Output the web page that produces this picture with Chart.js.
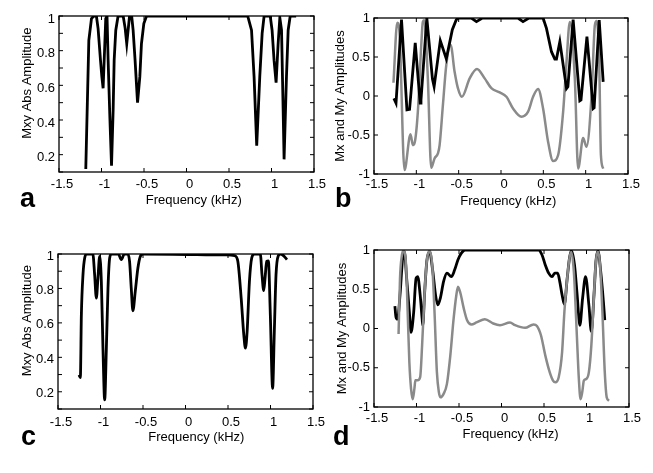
<!DOCTYPE html>
<html>
<head>
<meta charset="utf-8">
<script src="https://cdn.jsdelivr.net/npm/chart.js@4/dist/chart.umd.min.js"></script>
<style>
  body { margin: 0; background: #fff; }
  #wrap { position: relative; width: 653px; height: 473px; overflow: hidden; }
  #wrap canvas { position: absolute; display: block; }
</style>
</head>
<body>
<div id="wrap">
  <canvas id="pa" width="326" height="236" style="left:0;top:0"></canvas>
  <canvas id="pb" width="327" height="236" style="left:326px;top:0"></canvas>
  <canvas id="pc" width="326" height="237" style="left:0;top:236px"></canvas>
  <canvas id="pd" width="327" height="237" style="left:326px;top:236px"></canvas>
</div>
<script>
// tick labels
var freqTicks = [-1.5, -1, -0.5, 0, 0.5, 1, 1.5];
var ampLabels = [0.2, 0.4, 0.6, 0.8, 1];
var mxLabels = [-1, -0.5, 0, 0.5, 1];

// panel a : |Mxy|
var aFreq = [-1.185, -1.149, -1.118, -1.09, -1.06, -1.04, -1.012, -0.996, -0.981, -0.961, -0.95, -0.935,
  -0.922, -0.902, -0.882, -0.863, -0.851, -0.832, -0.805, -0.745, -0.722, -0.703, -0.67, -0.645, -0.628,
  -0.605, -0.576, -0.549, -0.53, -0.502, -0.47, 0.72, 0.765, 0.795, 0.826, 0.862, 0.89, 0.913, 0.985,
  1.007, 1.03, 1.054, 1.078, 1.098, 1.118, 1.137, 1.148, 1.176, 1.196, 1.22, 1.29];
var aAmp = [0.117, 0.86, 0.985, 1, 1, 0.927, 0.745, 0.65, 0.583, 0.84, 0.985, 1,
  0.745, 0.42, 0.136, 0.458, 0.745, 0.918, 1, 1, 0.93, 0.84, 1, 1, 0.918,
  0.745, 0.5, 0.65, 0.84, 0.956, 1, 1, 0.918, 0.65, 0.252, 0.65, 0.9, 1, 1,
  0.918, 0.745, 0.615, 0.84, 0.99, 0.918, 0.458, 0.173, 0.65, 0.918, 1, 1];

// panel b : Mx (black) and My (gray)
var bxFreq = [-1.265, -1.24, -1.175, -1.111, -1.08, -1.013, -0.955, -0.945, -0.876, -0.81, -0.79, -0.717,
  -0.646, -0.575, -0.528, -0.5, -0.35, -0.29, -0.22, 0.2, 0.26, 0.33, 0.497, 0.537, 0.596, 0.636, 0.655,
  0.695, 0.774, 0.79, 0.852, 0.931, 0.945, 1.015, 1.089, 1.1, 1.16, 1.207];
var bMx = [-0.03, -0.09, 0.98, -0.176, -0.17, 0.68, -0.09, -0.05, 1, 0.22, 0.12, 0.71,
  0.477, 0.85, 0.978, 1, 1, 0.953, 1, 1, 0.953, 1, 1, 0.867, 0.568, 0.474, 0.474,
  0.696, 0.097, 0.12, 0.98, -0.06, -0.05, 0.76, -0.16, -0.15, 0.974, 0.18];
var byFreq = [-1.27, -1.225, -1.199, -1.14, -1.069, -1.041, -1.02, -0.982, -0.942, -0.923, -0.905, -0.864,
  -0.824, -0.785, -0.745, -0.725, -0.686, -0.646, -0.595, -0.548, -0.509, -0.462, -0.37, -0.284, -0.193,
  -0.114, -0.015, 0.064, 0.142, 0.241, 0.32, 0.379, 0.438, 0.497, 0.556, 0.615, 0.675, 0.734, 0.774,
  0.813, 0.872, 0.911, 0.97, 1.01, 1.07, 1.109, 1.13, 1.16, 1.18, 1.207];
var bMy = [0.17, 0.94, 0.82, -0.95, -0.49, -0.63, -0.6, -0.2, 0.65, 0.95, 0.97, 0.226,
  -0.92, -0.8, -0.735, -0.63, -0.115, 0.4, 0.654, 0.31, 0.1, -0.01, 0.226, 0.346, 0.226,
  0.1, 0.046, -0.01, -0.16, -0.265, -0.2, -0.01, 0.09, -0.16, -0.586, -0.833, -0.756, -0.2, 0.44,
  0.95, 0.226, -0.93, -0.54, -0.65, 0.01, 0.91, 0.96, 0.44, -0.756, -0.93];

// panel c : |Mxy|
var cFreq = [-1.253, -1.237, -1.225, -1.206, -1.186, -1.16, -1.09, -1.069, -1.049, -1.03, -1.01, -0.99,
  -0.971, -0.951, -0.931, -0.912, -0.892, -0.87, -0.79, -0.755, -0.72, -0.68, -0.658, -0.638, -0.619,
  -0.591, -0.56, -0.532, -0.5, 0.48, 0.58, 0.616, 0.655, 0.686, 0.705, 0.725, 0.752, 0.779, 0.81, 0.88,
  0.9, 0.92, 0.936, 0.955, 0.975, 0.998, 1.025, 1.045, 1.065, 1.092, 1.12, 1.163, 1.194];
var cAmp = [0.298, 0.283, 0.647, 0.88, 0.977, 1, 1, 0.88, 0.744, 0.86, 0.986, 0.84,
  0.453, 0.153, 0.453, 0.8, 0.977, 1, 1, 0.967, 1, 1, 0.957, 0.8, 0.67,
  0.783, 0.919, 0.986, 1, 0.995, 0.99, 0.957, 0.744, 0.53, 0.453, 0.55, 0.84, 0.977, 1, 1,
  0.88, 0.787, 0.86, 0.957, 0.96, 0.647, 0.22, 0.55, 0.88, 0.99, 1, 0.986, 0.967];

// panel d : Mx (black) and My (gray)
var dxFreq = [-1.254, -1.242, -1.223, -1.194, -1.163, -1.143, -1.116, -1.084, -1.064, -1.033, -1.005, -0.986,
  -0.957, -0.934, -0.926, -0.906, -0.879, -0.847, -0.808, -0.776, -0.749, -0.72, -0.681, -0.642, -0.59,
  -0.551, -0.512, -0.472, -0.43, 0.436, 0.476, 0.515, 0.555, 0.595, 0.626, 0.661, 0.685, 0.713, 0.74,
  0.773, 0.8, 0.823, 0.859, 0.89, 0.922, 0.954, 0.989, 1.028, 1.057, 1.088, 1.111, 1.135, 1.167, 1.199, 1.215];
var dMx = [0.286, 0.149, 0.12, 0.427, 0.897, 0.98, 0.64, 0.21, -0.05, 0.21, 0.64, 0.66,
  0.427, 0.128, 0.04, 0.427, 0.854, 0.98, 0.726, 0.427, 0.3, 0.385, 0.6, 0.705, 0.66,
  0.747, 0.876, 0.96, 1, 1, 0.94, 0.81, 0.705, 0.66, 0.705, 0.705, 0.6, 0.427, 0.308,
  0.64, 0.897, 0.99, 0.81, 0.427, 0.04, 0.385, 0.66, 0.3, -0.04, 0.427, 0.854, 0.99, 0.726, 0.34, 0.106];
var dyFreq = [-1.211, -1.194, -1.171, -1.155, -1.123, -1.104, -1.084, -1.064, -1.045, -1.025, -1.013, -0.986,
  -0.957, -0.934, -0.906, -0.879, -0.847, -0.815, -0.788, -0.76, -0.737, -0.717, -0.681, -0.642, -0.602,
  -0.563, -0.531, -0.512, -0.483, -0.444, -0.405, -0.353, -0.294, -0.195, -0.097, -0.018, 0.1, 0.16,
  0.278, 0.377, 0.417, 0.464, 0.515, 0.567, 0.606, 0.634, 0.673, 0.713, 0.74, 0.773, 0.8, 0.82, 0.851,
  0.883, 0.91, 0.93, 0.95, 0.969, 1.001, 1.028, 1.057, 1.088, 1.111, 1.135, 1.159, 1.187, 1.215, 1.238, 1.265];
var dMy = [-0.07, 0.64, 0.94, 0.99, 0.81, 0.21, -0.43, -0.77, -0.9, -0.77, -0.66, -0.66,
  -0.62, -0.214, 0.427, 0.854, 0.99, 0.81, 0.21, -0.556, -0.81, -0.877, -0.833, -0.705, -0.342,
  0.128, 0.427, 0.533, 0.449, 0.256, 0.106, 0.051, 0.077, 0.119, 0.064, 0.042, 0.077, 0.042,
  0.008, 0.051, 0.033, -0.086, -0.342, -0.556, -0.663, -0.684, -0.62, -0.3, 0.213, 0.64, 0.897, 0.974, 0.726,
  0, -0.64, -0.9, -0.81, -0.663, -0.64, -0.556, -0.214, 0.427, 0.854, 0.98, 0.81, 0.213, -0.556, -0.877, -0.92];

var FONT = "'Liberation Sans', Arial, sans-serif";
Chart.defaults.font.family = FONT;
Chart.defaults.font.size = 13;
Chart.defaults.color = '#000';

function pts(xs, ys) {
  return xs.map(function(x, i) { return { x: x, y: ys[i] }; });
}

function num(v) {
  return String(+Number(v).toFixed(2));
}

// MATLAB style box with inward ticks plus the panel letter
function boxPlugin(letter, lx, ly) {
  return {
    id: 'boxTicks',
    afterDatasetsDraw: function(chart) {
      var ctx = chart.ctx, a = chart.chartArea;
      var x = chart.scales.x, y = chart.scales.y;
      ctx.save();
      ctx.strokeStyle = '#000';
      ctx.lineWidth = 1.3;
      ctx.strokeRect(a.left, a.top, a.right - a.left, a.bottom - a.top);
      ctx.lineWidth = 1;
      ctx.beginPath();
      x.ticks.forEach(function(t) {
        var px = x.getPixelForValue(t.value);
        ctx.moveTo(px, a.bottom); ctx.lineTo(px, a.bottom - 4);
        ctx.moveTo(px, a.top); ctx.lineTo(px, a.top + 4);
      });
      y.ticks.forEach(function(t) {
        var py = y.getPixelForValue(t.value);
        ctx.moveTo(a.left, py); ctx.lineTo(a.left + 4, py);
        ctx.moveTo(a.right, py); ctx.lineTo(a.right - 4, py);
      });
      ctx.stroke();
      ctx.fillStyle = '#000';
      ctx.font = 'bold 27px ' + FONT;
      ctx.textBaseline = 'alphabetic';
      ctx.textAlign = 'left';
      ctx.fillText(letter, lx, ly);
      ctx.restore();
    }
  };
}

function makePanel(id, p) {
  var yTicks = p.amp
    ? { min: 0.1, max: 1, stepSize: 0.1, labels: ampLabels }
    : { min: -1, max: 1, stepSize: 0.5, labels: mxLabels };

  new Chart(document.getElementById(id), {
    type: 'line',
    data: { datasets: p.datasets },
    options: {
      responsive: false,
      animation: false,
      devicePixelRatio: 1,
      layout: { padding: { left: 0, top: p.top, right: p.right, bottom: 0 } },
      plugins: { legend: { display: false }, tooltip: { enabled: false } },
      elements: { point: { radius: 0 } },
      scales: {
        x: {
          type: 'linear', min: -1.5, max: 1.5,
          grid: { display: false, drawTicks: false },
          border: { display: false },
          ticks: {
            stepSize: 0.5, padding: p.xPad, labelOffset: 3, maxRotation: 0, autoSkip: false,
            callback: function(v) { return freqTicks.indexOf(+v.toFixed(2)) >= 0 ? num(v) : ''; }
          },
          title: { display: true, text: p.xTitle, padding: { top: 0, bottom: p.xTitlePad } },
          afterFit: function(s) { s.height = p.xH; s.paddingLeft = 0; s.paddingRight = 0; }
        },
        y: {
          type: 'linear', min: yTicks.min, max: yTicks.max,
          grid: { display: false, drawTicks: false },
          border: { display: false },
          ticks: {
            stepSize: yTicks.stepSize, padding: 4, labelOffset: p.yOff, autoSkip: false,
            callback: function(v) { return yTicks.labels.indexOf(+v.toFixed(2)) >= 0 ? num(v) : ''; }
          },
          title: { display: true, text: p.yTitle, padding: { top: p.yTitlePad, bottom: 0 } },
          afterFit: function(s) { s.width = p.yW; s.paddingTop = 0; s.paddingBottom = 0; }
        }
      }
    },
    plugins: [boxPlugin(p.letter, p.lx, p.ly)]
  });
}

function blackLine(data, smooth) {
  return { data: data, borderColor: '#000', borderWidth: 2.8, tension: 0,
    cubicInterpolationMode: smooth ? 'monotone' : 'default' };
}
function grayLine(data, smooth) {
  return { data: data, borderColor: '#8a8a8a', borderWidth: 2.5, tension: 0,
    cubicInterpolationMode: smooth ? 'monotone' : 'default' };
}

makePanel('pa', {
  amp: true, top: 16, right: 12, yW: 59, xH: 64, xPad: 5, xTitlePad: 28, yTitlePad: 20, yOff: 3,
  xTitle: '    Frequency (kHz)', yTitle: '      Mxy Abs Amplitude',
  letter: 'a', lx: 20, ly: 207,
  datasets: [blackLine(pts(aFreq, aAmp), false)]
});

// black drawn over gray here (first dataset is drawn last)
makePanel('pb', {
  amp: false, top: 18, right: 25, yW: 48, xH: 62, xPad: 3, xTitlePad: 27, yTitlePad: 7, yOff: 0,
  xTitle: '    Frequency (kHz)', yTitle: 'Mx and My Amplitudes',
  letter: 'b', lx: 9, ly: 207,
  datasets: [blackLine(pts(bxFreq, bMx), false), grayLine(pts(byFreq, bMy), true)]
});

makePanel('pc', {
  amp: true, top: 18, right: 13, yW: 58, xH: 64, xPad: 6, xTitlePad: 28, yTitlePad: 20, yOff: 2,
  xTitle: '      Frequency (kHz)', yTitle: '      Mxy Abs Amplitude',
  letter: 'c', lx: 21, ly: 209,
  datasets: [blackLine(pts(cFreq, cAmp), true)]
});

makePanel('pd', {
  amp: false, top: 14, right: 24, yW: 48, xH: 66, xPad: 4, xTitlePad: 31, yTitlePad: 9, yOff: 0,
  xTitle: '     Frequency (kHz)', yTitle: 'Mx and My Amplitudes',
  letter: 'd', lx: 7, ly: 209,
  datasets: [grayLine(pts(dyFreq, dMy), true), blackLine(pts(dxFreq, dMx), true)]
});
</script>
</body>
</html>
